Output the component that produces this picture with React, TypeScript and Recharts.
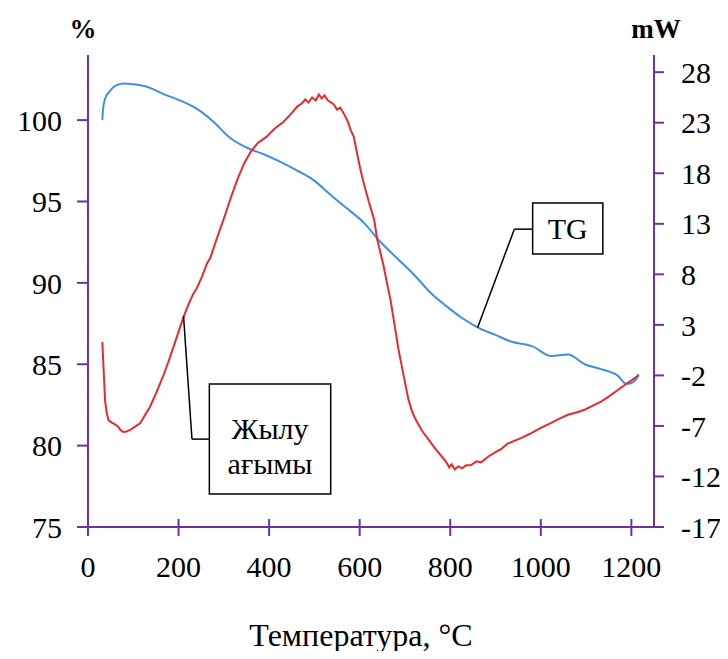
import {
  ComposedChart,
  Line,
  XAxis,
  YAxis,
  ReferenceLine,
  ReferenceArea,
} from "recharts";

const FONT = '"Liberation Serif", "Times New Roman", serif';
const PURPLE = "#7030A0";

// TG curve, % (left axis)
const tgTemp = [
  31.7, 33, 37.6, 48.7, 60, 78, 100, 130, 167, 204, 240, 277, 314, 351, 388,
  425, 462, 499, 536, 573, 609, 643, 683, 720, 760, 790, 823, 860, 900, 934,
  982, 1023, 1060, 1097, 1133, 1170, 1189, 1200, 1211, 1216,
];
const tgMass = [
  100.0, 100.6, 101.3, 101.8, 102.1, 102.25, 102.2, 102.05, 101.6, 101.2,
  100.7, 99.9, 98.9, 98.3, 97.9, 97.43, 96.9, 96.3, 95.4, 94.55, 93.7, 92.6,
  91.5, 90.5, 89.3, 88.6, 87.9, 87.27, 86.8, 86.4, 86.1, 85.5, 85.6, 85.0,
  84.7, 84.3, 83.8, 83.85, 84.1, 84.4,
];

// heat flow, mW (right axis)
const dscTemp = [
  31.7, 37.6, 41, 45, 50, 56, 65, 72, 78, 85, 93, 103, 115, 125, 137, 150, 167,
  178, 189, 200, 211, 220, 226, 233, 240, 252, 263, 270, 285, 300, 314, 330,
  345, 359, 375, 394, 412, 432, 447, 462, 472, 480, 487, 495, 503, 510, 516,
  522, 530, 537, 543, 550, 557, 565, 573, 580, 587, 595, 602, 609, 620, 632,
  639, 646, 652, 660, 668, 677, 686, 697, 708, 716, 724, 738, 753, 766, 779,
  790, 798, 803, 810, 818, 826, 835, 845, 858, 868, 885, 900, 912, 925, 940,
  956, 975, 1000, 1023, 1040, 1060, 1080, 1097, 1115, 1133, 1150, 1170, 1190,
  1205, 1216,
];
const dscFlow = [
  1.3, -4.45, -5.6, -6.4, -6.6, -6.75, -7.0, -7.4, -7.6, -7.55, -7.4, -7.1,
  -6.75, -6.0, -5.1, -3.8, -1.95, -0.6, 0.85, 2.3, 3.8, 4.8, 5.45, 6.1, 6.6,
  7.8, 9.1, 9.6, 11.6, 13.5, 15.4, 17.4, 19.0, 20.1, 21.0, 21.6, 22.4, 23.1,
  23.8, 24.6, 24.9, 25.3, 25.0, 25.5, 25.2, 25.8, 25.4, 25.7, 25.2, 25.0, 24.8,
  24.3, 24.5, 23.9, 23.2, 22.3, 21.6, 19.8, 18.3, 17.0, 15.2, 13.4, 11.4, 10.1,
  9.0, 7.2, 5.5, 3.0, 0.5, -2.0, -4.45, -5.6, -6.4, -7.5, -8.4, -9.2, -9.9,
  -10.5, -11.1, -10.8, -11.3, -11.0, -11.2, -10.9, -10.9, -10.5, -10.6, -10.0,
  -9.6, -9.3, -8.8, -8.5, -8.2, -7.8, -7.2, -6.7, -6.3, -5.9, -5.65, -5.4,
  -5.0, -4.6, -4.1, -3.45, -2.8, -2.35, -2.0,
];

const xTicks = [0, 200, 400, 600, 800, 1000, 1200];
const leftTicks = [75, 80, 85, 90, 95, 100];
const rightTicks = [-17, -12, -7, -2, 3, 8, 13, 18, 23, 28];

const tgData = tgTemp.map((t, i) => ({ t, v: tgMass[i] }));
const dscData = dscTemp.map((t, i) => ({ t, v: dscFlow[i] }));

const XTick = (props: any) => {
  const { x, y, payload } = props;
  return (
    <g>
      <line x1={x} x2={x} y1={y - 8} y2={y + 9} stroke={PURPLE} strokeWidth={2} />
      <text x={x} y={y + 50} textAnchor="middle" fontSize={30} fontFamily={FONT} fill="#000">
        {payload.value}
      </text>
    </g>
  );
};

const boxText = (lines: string[], baselines: number[]) => (props: any) => {
  const vb = props.viewBox;
  const cx = vb.x + vb.width / 2;
  return (
    <g>
      {lines.map((s, i) => (
        <text key={i} x={cx} y={vb.y + baselines[i]} textAnchor="middle" fontSize={30} fontFamily={FONT} fill="#000">
          {s}
        </text>
      ))}
    </g>
  );
};

export default function App() {
  return (
    <div style={{ margin: -8 }}>
      <ComposedChart width={728} height={659} margin={{ top: 55, right: 0, left: 0, bottom: 0 }}>
        <XAxis
          type="number"
          dataKey="t"
          domain={[0, 1250]}
          ticks={xTicks}
          allowDataOverflow
          height={132}
          axisLine={{ stroke: PURPLE, strokeWidth: 2 }}
          tickLine={false}
          tickSize={0}
          tickMargin={0}
          tick={<XTick />}
          label={{
            value: "Температура, °C",
            position: "insideBottom",
            offset: 13,
            dx: -10,
            style: { fontSize: 32, fontFamily: FONT, fill: "#000" },
          }}
        />
        <YAxis
          yAxisId="left"
          domain={[75, 104]}
          ticks={leftTicks}
          allowDataOverflow
          width={88}
          axisLine={{ stroke: PURPLE, strokeWidth: 2 }}
          tickLine={{ stroke: PURPLE, strokeWidth: 2 }}
          tickSize={11}
          tickMargin={15}
          tick={{ fontSize: 30, fontFamily: FONT, fill: "#000" }}
          label={{
            value: "%",
            position: "top",
            offset: 17,
            dx: 39,
            style: { fontSize: 27, fontFamily: FONT, fontWeight: "bold", fill: "#000" },
          }}
        />
        <YAxis
          yAxisId="right"
          orientation="right"
          domain={[-17, 29.7]}
          ticks={rightTicks}
          allowDataOverflow
          width={74}
          axisLine={{ stroke: PURPLE, strokeWidth: 2 }}
          tickLine={{ stroke: PURPLE, strokeWidth: 2 }}
          tickSize={10}
          tickMargin={17}
          tick={{ fontSize: 30, fontFamily: FONT, fill: "#000" }}
          label={{
            value: "mW",
            position: "top",
            offset: 17,
            dx: -35,
            style: { fontSize: 27, fontFamily: FONT, fontWeight: "bold", fill: "#000" },
          }}
        />
        <Line
          yAxisId="left"
          data={tgData}
          dataKey="v"
          type="monotone"
          stroke="#3F8FE5"
          strokeWidth={2}
          dot={false}
          isAnimationActive={false}
        />
        <Line
          yAxisId="right"
          data={dscData}
          dataKey="v"
          type="linear"
          stroke="#E52B2B"
          strokeWidth={2}
          dot={false}
          isAnimationActive={false}
        />
        {/* callout: heat flow */}
        <ReferenceLine yAxisId="left" segment={[{ x: 211, y: 87.96 }, { x: 229.6, y: 80.4 }]} stroke="#000" strokeWidth={1.5} />
        <ReferenceLine yAxisId="left" segment={[{ x: 229.6, y: 80.4 }, { x: 268, y: 80.4 }]} stroke="#000" strokeWidth={1.5} />
        <ReferenceArea
          yAxisId="left"
          x1={268}
          x2={536}
          y1={77.02}
          y2={83.78}
          fill="#fff"
          fillOpacity={1}
          stroke="#000"
          strokeWidth={1.5}
          label={boxText(["Жылу", "ағымы"], [55, 90])}
        />
        {/* callout: TG */}
        <ReferenceLine yAxisId="left" segment={[{ x: 860.5, y: 87.26 }, { x: 941.6, y: 93.3 }]} stroke="#000" strokeWidth={1.5} />
        <ReferenceLine yAxisId="left" segment={[{ x: 941.6, y: 93.3 }, { x: 982, y: 93.3 }]} stroke="#000" strokeWidth={1.5} />
        <ReferenceArea
          yAxisId="left"
          x1={982}
          x2={1137}
          y1={91.77}
          y2={94.9}
          fill="#fff"
          fillOpacity={1}
          stroke="#000"
          strokeWidth={1.5}
          label={boxText(["TG"], [36])}
        />
      </ComposedChart>
    </div>
  );
}
